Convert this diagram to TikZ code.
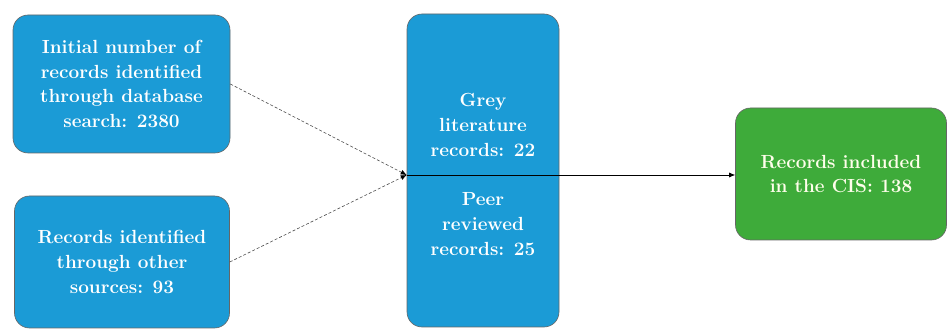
\documentclass[tikz,border=0pt]{standalone}
\usetikzlibrary{arrows.meta}

\definecolor{boxblue}{RGB}{27,155,214}
\definecolor{boxgreen}{RGB}{62,171,58}

\tikzset{
    boxtext/.style={text=white, align=center,
        font=\fontsize{19}{24.8}\selectfont\bfseries},
    recbox/.style={boxtext, draw=gray!80!black, line width=0.6pt,
        rounded corners=15pt, fill=boxblue, inner sep=0pt},
    feed/.style={densely dashed, draw=gray!60!black, line width=0.6pt,
        -{Latex[length=6pt,width=5pt,color=black]}},
}

\begin{document}
\begin{tikzpicture}[x=1pt, y=1pt]
    \useasboundingbox (0,0) rectangle (947,329);
    \clip (0,0) rectangle (947,329);

    % linke Kaesten
    \node[recbox, minimum width=217pt, minimum height=138pt] (db) at (121.5,245)
        {Initial number of\\records identified\\through database\\search: 2380};
    \node[recbox, minimum width=215pt, minimum height=132pt] (other) at (122,67)
        {Records identified\\through other\\sources: 93};

    % mittlerer Kasten
    \node[recbox, minimum width=152pt, minimum height=313pt] (mid) at (483,158.5) {};
    \node[boxtext] (grey) at (483,204) {Grey\\literature\\records: 22};
    \node[boxtext] (peer) at (483,105) {Peer\\reviewed\\records: 25};

    % rechter Kasten
    \node[recbox, fill=boxgreen, text=white!92!yellow, minimum width=211pt,
        minimum height=132pt] (cis) at (841,155)
        {Records included\\in the CIS: 138};

    % Verbindungen
    \coordinate (join) at (mid.west |- 0,154);
    \draw[feed] (db.east) -- (join);
    \draw[feed] (other.east) -- (join);
    \draw[line width=0.7pt, -{Latex[length=6pt,width=5pt]}] (join) -- (cis.west |- join);
\end{tikzpicture}
\end{document}
